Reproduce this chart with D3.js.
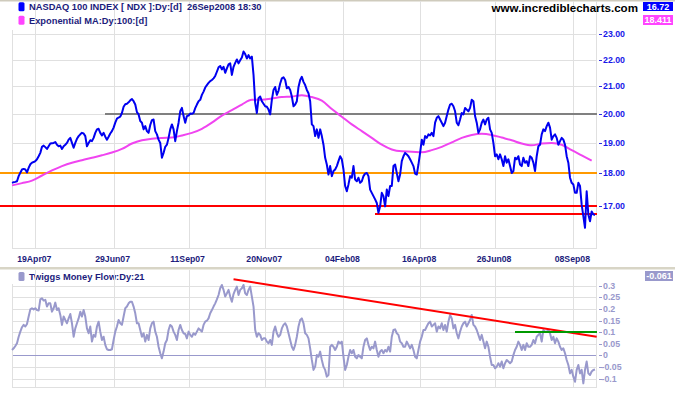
<!DOCTYPE html>
<html>
<head>
<meta charset="utf-8">
<script src="https://cdn.jsdelivr.net/npm/d3@7"></script>
<style>
body { margin: 0; background: #fff; }
svg { display: block; font-family: 'Liberation Sans', Arial, sans-serif; font-weight: bold; }
</style>
</head>
<body>
<script>
// NDX daily close (scaled /100), one value per trading day, Mar 2007 - 26 Sep 2008
let price = [
    17.70, 17.72, 17.73, 17.75, 17.91, 18.02, 18.12, 18.14, 18.12, 18.03,
    18.17, 18.29, 18.34, 18.36, 18.39, 18.45, 18.55, 18.66, 18.86, 18.90,
    18.85, 18.79, 18.88, 18.97, 18.98, 18.99, 19.02, 18.93, 18.88, 18.90,
    18.79, 18.88, 18.93, 18.99, 19.10, 19.16, 18.99, 18.83, 18.99, 19.13,
    19.22, 19.28, 19.33, 19.31, 19.22, 18.88, 18.99, 19.08, 19.05, 19.16,
    19.33, 19.45, 19.47, 19.33, 19.24, 19.33, 19.20, 19.10, 19.20, 19.31,
    19.39, 19.51, 19.68, 19.82, 19.86, 19.89, 20.02, 20.24, 20.33, 20.35,
    20.40, 20.47, 20.52, 20.44, 20.32, 20.05, 19.97, 19.74, 19.68, 19.45,
    19.56, 19.39, 19.33, 19.60, 19.77, 19.79, 19.39, 19.28, 19.10, 18.99,
    18.50, 18.66, 18.86, 18.93, 19.16, 19.45, 19.62, 19.45, 19.05, 19.39,
    19.68, 20.08, 20.20, 19.91, 19.68, 19.91, 19.93, 20.00, 19.99, 20.02,
    20.19, 20.32, 20.44, 20.49, 20.67, 20.79, 20.94, 21.03, 21.11, 21.18,
    21.22, 21.28, 21.37, 21.53, 21.70, 21.75, 21.62, 21.72, 21.49, 21.66,
    21.81, 21.85, 21.41, 21.72, 21.87, 22.00, 21.85, 21.97, 22.08, 22.31,
    22.21, 22.04, 22.17, 22.04, 22.11, 21.41, 20.38, 20.02, 20.55, 20.61,
    20.44, 20.35, 20.26, 20.24, 20.14, 19.97, 20.49, 20.85, 20.96, 20.67,
    20.82, 21.09, 21.28, 21.32, 21.22, 20.91, 20.96, 20.85, 20.61, 20.26,
    20.32, 20.44, 20.96, 21.22, 21.34, 21.15, 21.03, 20.85, 20.73, 20.44,
    19.62, 19.56, 19.22, 19.45, 19.16, 19.45, 19.22, 18.93, 18.50, 18.28,
    17.96, 18.23,
    17.91, 18.07, 18.12, 18.23, 18.39, 18.55, 18.45, 18.12, 17.60, 17.44,
    17.65, 17.91, 17.86, 18.23, 17.80, 17.75, 17.86, 17.70, 17.75, 17.91,
    17.99, 18.01, 17.91, 17.49, 17.39, 17.29, 17.19, 17.08, 16.79, 16.98,
    17.39, 17.29, 16.98, 17.49, 17.29, 17.60, 17.60, 18.23, 18.28, 18.01,
    17.75, 17.96, 18.39, 18.55, 18.66, 18.61, 18.55, 18.45, 18.34, 18.23,
    17.99, 17.96, 18.28, 18.66, 19.10, 18.93, 19.22, 19.16, 19.28, 19.24,
    19.33, 19.22, 19.68, 19.85, 19.91, 19.79, 19.68, 19.56, 19.68, 19.91,
    20.14, 20.32, 20.35, 20.26, 20.08, 19.68, 19.59, 19.79, 20.02, 19.97,
    20.20, 20.14, 20.08, 20.20, 20.49, 20.44, 19.91, 19.68, 19.33, 19.45,
    19.68, 19.79, 19.62, 19.79, 19.85, 19.45, 19.33, 18.99, 18.55, 18.61,
    18.45, 18.61, 18.45, 18.23, 18.55, 18.34, 18.45, 18.23, 18.01, 18.07,
    18.50, 18.45, 18.55, 18.28, 18.23, 18.50, 18.34, 18.39, 18.23, 18.55,
    18.50, 18.34, 18.07, 18.55, 18.88, 18.93, 19.28, 19.45, 19.39, 19.56,
    19.68, 19.51, 19.10, 19.22, 19.28, 19.16, 18.93, 19.05, 19.16, 19.10,
    18.93, 18.55, 18.34, 17.86, 17.70, 17.65, 17.39, 17.39, 17.70, 17.60,
    17.03, 16.69, 16.35, 17.44, 16.74, 16.54, 16.83, 16.74, 16.72
];

// 100 day exponential MA, read every 6th day
let maStep = 6;
let expMA = [
    17.62, 17.69, 17.77, 17.93, 18.09, 18.23, 18.34, 18.42, 18.50, 18.58,
    18.67, 18.79, 18.97, 19.08, 19.13, 19.16, 19.17, 19.24, 19.33, 19.47,
    19.68, 19.93, 20.12, 20.32, 20.49, 20.49, 20.54, 20.59, 20.61, 20.66,
    20.59, 20.46, 20.16, 19.89, 19.62, 19.39, 19.16, 18.93, 18.77, 18.71,
    18.70, 18.68, 18.75, 18.86, 19.01, 19.16, 19.26, 19.30, 19.26, 19.17,
    19.08, 18.97, 18.91, 18.97, 18.99, 18.93, 18.75, 18.58, 18.41
];

// Twiggs Money Flow (21)
let moneyFlow = [
    0.023, 0.030, 0.040, 0.052, 0.080, 0.102, 0.121, 0.131, 0.124, 0.135,
    0.167, 0.198, 0.203, 0.198, 0.203, 0.195, 0.193, 0.241, 0.246, 0.236,
    0.239, 0.210, 0.224, 0.224, 0.188, 0.203, 0.227, 0.195, 0.203, 0.174,
    0.131, 0.167, 0.152, 0.138, 0.159, 0.178, 0.138, 0.080, 0.116, 0.138,
    0.159, 0.188, 0.167, 0.195, 0.167, 0.116, 0.095, 0.124, 0.059, 0.088,
    0.080, 0.124, 0.145, 0.102, 0.066, 0.080, 0.045, 0.026, 0.023, 0.023,
    0.026, 0.066, 0.102, 0.124, 0.152, 0.138, 0.131, 0.167, 0.203, 0.210,
    0.224, 0.231, 0.231, 0.210, 0.181, 0.138, 0.138, 0.109, 0.080, 0.095,
    0.059, 0.088, 0.066, 0.116, 0.138, 0.145, 0.102, 0.080, 0.037, 0.009,
    -0.013, 0.016, 0.052, 0.066, 0.109, 0.131, 0.124, 0.102, 0.088, 0.066,
    0.109, 0.131, 0.109, 0.095, 0.092, 0.073, 0.102, 0.088, 0.080, 0.095,
    0.088, 0.102, 0.116, 0.109, 0.102, 0.131, 0.145, 0.149, 0.159, 0.181,
    0.195, 0.210, 0.224, 0.241, 0.260, 0.289, 0.303, 0.282, 0.253, 0.267,
    0.282, 0.253, 0.231, 0.264, 0.282, 0.296, 0.260, 0.282, 0.289, 0.303,
    0.267, 0.260, 0.282, 0.296, 0.253, 0.210, 0.109, 0.080, 0.095, 0.088,
    0.066, 0.073, 0.073, 0.059, 0.052, 0.066, 0.045, 0.102, 0.124, 0.095,
    0.080, 0.088, 0.116, 0.131, 0.138, 0.124, 0.095, 0.066, 0.037, 0.023,
    0.045, 0.080, 0.124, 0.152, 0.159, 0.138, 0.095, 0.088, 0.073, 0.030,
    -0.020, -0.063, -0.049, 0.001, -0.006, 0.016, -0.020, -0.049, -0.063, -0.092,
    -0.085, 0.037,
    0.045, 0.037, 0.023, 0.037, 0.059, 0.052, 0.059, -0.006, -0.063, -0.042,
    -0.006, 0.023, 0.009, 0.023, -0.006, -0.013, 0.001, -0.006, -0.013, 0.037,
    0.066, 0.073, 0.045, 0.023, 0.037, 0.030, 0.059, 0.023, -0.006, 0.016,
    0.023, 0.009, 0.023, 0.016, 0.037, 0.016, 0.080, 0.109, 0.112, 0.095,
    0.088, 0.059, 0.052, 0.037, 0.037, 0.059, 0.045, 0.030, 0.045, 0.023,
    -0.006, -0.013, 0.023, 0.059, 0.080, 0.109, 0.109, 0.124, 0.138, 0.145,
    0.124, 0.131, 0.138, 0.102, 0.124, 0.116, 0.138, 0.109, 0.131, 0.102,
    0.145, 0.174, 0.159, 0.116, 0.131, 0.095, 0.073, 0.102, 0.124, 0.138,
    0.145, 0.124, 0.138, 0.152, 0.174, 0.131, 0.124, 0.109, 0.088, 0.066,
    0.088, 0.059, 0.030, 0.059, 0.037, -0.006, -0.042, -0.042, -0.056, -0.049,
    -0.034, -0.049, -0.027, -0.056, -0.034, -0.020, -0.027, -0.034, -0.027, 0.001,
    0.023, 0.037, 0.059, 0.045, 0.023, 0.045, 0.023, 0.052, 0.037, 0.037,
    0.045, 0.066, 0.052, 0.080, 0.088, 0.095, 0.059, 0.109, 0.102, 0.102,
    0.109, 0.095, 0.066, 0.080, 0.052, 0.073, 0.059, 0.037, 0.023, 0.030,
    0.009, -0.020, -0.042, -0.078, -0.063, -0.092, -0.114, -0.063, -0.042, -0.078,
    -0.063, -0.121, -0.063, -0.027, -0.078, -0.085, -0.070, -0.063, -0.061
];

let tickDays = [14, 61, 106, 152, 199, 245, 290, 337];
let tickLabels = ['19Apr07', '29Jun07', '11Sep07', '20Nov07', '04Feb08', '16Apr08', '26Jun08', '08Sep08'];
let priceTicks = [17, 18, 19, 20, 21, 22, 23];
let flowTicks = [-0.1, -0.05, 0, 0.05, 0.1, 0.15, 0.2, 0.25, 0.3];

// horizontal support / resistance lines: level and first day (null = whole chart)
let levelValues = [20, 18, 17, 16.76];
let levelStart = [56, null, null, 218];
let levelColors = ['#808080', '#ff9900', '#ff0000', '#ff0000'];

// money flow trendlines: [day, value] ends
let flowTrend = [[133, 0.328], [351, 0.080]];
let flowSignal = [[302, 0.102], [351, 0.102]];

let lastPrice = '16.72', lastMA = '18.411', lastFlow = '-0.061';

let W = 675, H = 395;
let plotLeft = 12, plotRight = 596;
let gridColor = '#e0e0e0';
let navy = '#1c1c7c';
let lavender = '#9999cc';

let svg = d3.select('body').append('svg')
    .attr('width', W)
    .attr('height', H);

svg.append('rect').attr('width', W).attr('height', H).attr('fill', '#fff');

let x = d3.scaleLinear().domain([0, price.length - 1]).range([plotLeft, 595]);
let yPrice = d3.scaleLog().domain([17, 23]).range([205.7, 34.3]);
let yFlow = d3.scaleLinear().domain([-0.1, 0.3]).range([378.5, 285.7]);
let px = v => Math.round(v) + 0.5;

// separators
svg.append('rect').attr('x', 0).attr('y', 0).attr('width', W).attr('height', 1.5).attr('fill', '#cfcbbd');
svg.append('rect').attr('x', 0).attr('y', 267).attr('width', W).attr('height', 2.5).attr('fill', '#d8d5c6');

// ---- upper panel grid
let upper = svg.append('g');
upper.selectAll('.vgrid')
    .data(tickDays)
    .enter().append('line')
    .attr('x1', d => px(x(d))).attr('x2', d => px(x(d)))
    .attr('y1', 1).attr('y2', 248)
    .attr('stroke', gridColor);
upper.selectAll('.hgrid')
    .data(priceTicks)
    .enter().append('line')
    .attr('x1', plotLeft).attr('x2', plotRight)
    .attr('y1', d => px(yPrice(d))).attr('y2', d => px(yPrice(d)))
    .attr('stroke', gridColor);
upper.append('line').attr('x1', px(plotLeft)).attr('x2', px(plotLeft)).attr('y1', 30).attr('y2', 248).attr('stroke', gridColor);
upper.append('line').attr('x1', px(plotRight)).attr('x2', px(plotRight)).attr('y1', 1).attr('y2', 248).attr('stroke', gridColor);
upper.append('line').attr('x1', plotLeft).attr('x2', plotRight + 1).attr('y1', 248.5).attr('y2', 248.5).attr('stroke', gridColor);

// levels
upper.selectAll('.level')
    .data(levelValues)
    .enter().append('line')
    .attr('x1', (d, i) => levelStart[i] === null ? 0 : x(levelStart[i]))
    .attr('x2', plotRight + 1)
    .attr('y1', d => Math.round(yPrice(d))).attr('y2', d => Math.round(yPrice(d)))
    .attr('stroke', (d, i) => levelColors[i])
    .attr('stroke-width', 2)
    .attr('shape-rendering', 'crispEdges');

// MA and price
let maLine = d3.line().x((d, i) => x(i * maStep)).y(d => yPrice(d)).curve(d3.curveMonotoneX);
upper.append('path').datum(expMA)
    .attr('d', maLine)
    .attr('fill', 'none')
    .attr('stroke', '#f044f0')
    .attr('stroke-width', 2);

let priceLine = d3.line().x((d, i) => x(i)).y(d => yPrice(d));
upper.append('path').datum(price)
    .attr('d', priceLine)
    .attr('fill', 'none')
    .attr('stroke', '#0000f0')
    .attr('stroke-width', 2)
    .attr('stroke-linejoin', 'round');

// right axis
upper.selectAll('.ptick')
    .data(priceTicks)
    .enter().append('line')
    .attr('x1', 599).attr('x2', 602)
    .attr('y1', d => px(yPrice(d))).attr('y2', d => px(yPrice(d)))
    .attr('stroke', '#3030e0');
upper.selectAll('.plabel')
    .data(priceTicks)
    .enter().append('text')
    .attr('x', 603)
    .attr('y', d => yPrice(d))
    .attr('dy', '0.35em')
    .attr('font-size', 8.8)
    .attr('fill', '#1818e8')
    .text(d => d.toFixed(2));

// date labels
svg.selectAll('.xlabel')
    .data(tickDays)
    .enter().append('text')
    .attr('x', d => x(d) - 1)
    .attr('y', 258.5)
    .attr('dy', '0.35em')
    .attr('text-anchor', 'middle')
    .attr('font-size', 8.7)
    .attr('fill', navy)
    .text((d, i) => tickLabels[i]);

// legends
let legend = [
    { y: 6.7, color: '#0000ff', text: 'NASDAQ 100 INDEX [ NDX ]:Dy:[d]  26Sep2008 18:30' },
    { y: 20.3, color: '#ff44ff', text: 'Exponential MA:Dy:100:[d]' },
    { y: 276.5, color: lavender, text: 'Twiggs Money Flow:Dy:21' }
];
legend.forEach(l => {
    svg.append('rect').attr('x', 18.5).attr('y', l.y - 4.5).attr('width', 6).attr('height', 9)
        .attr('rx', 1.5).attr('fill', l.color);
    svg.append('text').attr('x', 29).attr('y', l.y).attr('dy', '0.35em')
        .attr('font-size', 9.3).attr('fill', navy)
        .style('white-space', 'pre')
        .text(l.text);
});

svg.append('text')
    .attr('x', 638).attr('y', 8).attr('dy', '0.35em')
    .attr('text-anchor', 'end')
    .attr('font-size', 11.6)
    .attr('fill', '#000')
    .text('www.incrediblecharts.com');

// value boxes
let boxes = [
    { x: 643, y: 2, w: 30, h: 9, color: '#0000ff', text: lastPrice },
    { x: 643, y: 15, w: 30, h: 10, color: '#ff44ff', text: lastMA },
    { x: 645, y: 271, w: 28, h: 10, color: lavender, text: lastFlow }
];
boxes.forEach(b => {
    svg.append('rect').attr('x', b.x).attr('y', b.y).attr('width', b.w).attr('height', b.h).attr('fill', b.color);
    svg.append('text').attr('x', b.x + b.w / 2).attr('y', b.y + b.h / 2).attr('dy', '0.35em')
        .attr('text-anchor', 'middle').attr('font-size', 9).attr('fill', '#fff').text(b.text);
});

// ---- lower panel
let lower = svg.append('g');
lower.selectAll('.vgrid')
    .data(tickDays)
    .enter().append('line')
    .attr('x1', d => px(x(d))).attr('x2', d => px(x(d)))
    .attr('y1', 270).attr('y2', 387)
    .attr('stroke', gridColor);
lower.selectAll('.hgrid')
    .data(flowTicks)
    .enter().append('line')
    .attr('x1', plotLeft).attr('x2', plotRight)
    .attr('y1', d => px(yFlow(d))).attr('y2', d => px(yFlow(d)))
    .attr('stroke', d => d === 0 ? lavender : gridColor);
lower.append('line').attr('x1', px(plotLeft)).attr('x2', px(plotLeft)).attr('y1', 284).attr('y2', 387.5).attr('stroke', gridColor);
lower.append('line').attr('x1', px(plotRight)).attr('x2', px(plotRight)).attr('y1', 270).attr('y2', 387.5).attr('stroke', gridColor);
lower.append('line').attr('x1', plotLeft).attr('x2', plotRight + 1).attr('y1', 387.5).attr('y2', 387.5).attr('stroke', gridColor);

let flowLine = d3.line().x((d, i) => x(i)).y(d => yFlow(d));
lower.append('path').datum(moneyFlow)
    .attr('d', flowLine)
    .attr('fill', 'none')
    .attr('stroke', lavender)
    .attr('stroke-width', 2)
    .attr('stroke-linejoin', 'round');

let segLine = d3.line().x(d => x(d[0])).y(d => yFlow(d[1]));
lower.append('path').datum(flowTrend)
    .attr('d', segLine).attr('stroke', '#ff0000').attr('stroke-width', 2).attr('fill', 'none');
lower.append('path').datum(flowSignal)
    .attr('d', segLine).attr('stroke', '#009900').attr('stroke-width', 2).attr('fill', 'none')
    .attr('shape-rendering', 'crispEdges');

lower.selectAll('.ftick')
    .data(flowTicks)
    .enter().append('line')
    .attr('x1', 599).attr('x2', 602)
    .attr('y1', d => px(yFlow(d))).attr('y2', d => px(yFlow(d)))
    .attr('stroke', lavender);
lower.selectAll('.flabel')
    .data(flowTicks)
    .enter().append('text')
    .attr('x', d => d < 0 ? 601.5 : 603)
    .attr('y', d => yFlow(d))
    .attr('dy', '0.35em')
    .attr('font-size', 8.8)
    .attr('fill', lavender)
    .text(d => String(d));
</script>
</body>
</html>
